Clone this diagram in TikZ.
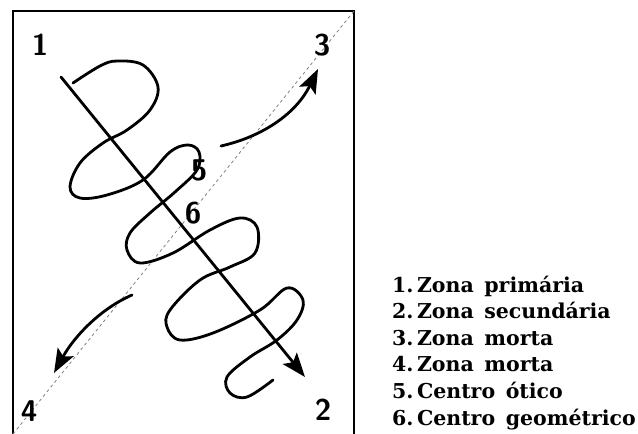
\documentclass[tikz,border=0pt]{standalone}
\usepackage{fontspec}
\setmainfont{DejaVu Serif}
\usetikzlibrary{arrows.meta}
\begin{document}
\begin{tikzpicture}[x=1pt,y=-1pt,
  hand/.style={line width=2.8pt,line cap=round,line join=round},
  bigarrow/.style={hand,-{Stealth[length=24pt,width=18pt,inset=5pt]}},
  digit/.style={font=\sffamily\bfseries\fontsize{30}{30}\selectfont},
  legend/.style={anchor=base west,inner sep=0pt,font=\bfseries\fontsize{20.5}{20.5}\selectfont}]
\useasboundingbox (0,0) rectangle (638,434);
% frame
\draw[line width=1.8pt] (13,434) -- (13,11) -- (354,11) -- (354,434);
% dashed diagonal
\coordinate (dl) at (13,434);
\coordinate (dr) at (354,11);
\draw[gray,line width=0.8pt,dash pattern=on 3pt off 3pt] (dl) -- (dr);
% spiral
\draw[hand] plot[smooth,tension=0.6] coordinates {
 (73,83) (100,66) (117,61) (143,65) (158,87) (150,110) (127,130) (103,143)
 (80,163) (70,187) (80,198) (107,195) (143,180) (170,152) (188,145) (199,152)
 (197,170) (175,192) (150,213) (130,233) (127,250) (140,263) (173,253) (210,230)
 (240,218) (257,227) (255,253) (230,267) (200,280) (170,310) (167,327) (180,340)
 (213,333) (260,310) (287,288) (303,300) (297,320) (277,340) (250,357) (227,377)
 (230,393) (247,397) (273,380)};
% main arrow
\coordinate (p1) at (61,77);
\coordinate (p2) at (305,377);
\draw[bigarrow] (p1) -- (p2);
% curved arrows
\coordinate (u1) at (221,146);
\coordinate (u2) at (318,69);
\draw[bigarrow] (u1) .. controls (265,136) and (297,112) .. (u2);
\coordinate (l1) at (132,295);
\coordinate (l2) at (54,373);
\draw[bigarrow] (l1) .. controls (102,308) and (75,335) .. (l2);
% digits
\node[digit] (n1) at (40,45) {1};
\node[digit] (n3) at (322,45) {3};
\node[digit] (n4) at (29,411) {4};
\node[digit] (n2) at (323,410) {2};
\node[digit] (n5) at (199,170) {5};
\node[digit] (n6) at (193,213) {6};
% legend
\node[legend] (t1) at (392,292) {1.\,Zona\, primária};
\node[legend] (t2) at (392,318.5) {2.\,Zona\, secundária};
\node[legend] (t3) at (392,345) {3.\,Zona\, morta};
\node[legend] (t4) at (392,371.5) {4.\,Zona\, morta};
\node[legend] (t5) at (392,398) {5.\,Centro\, ótico};
\node[legend] (t6) at (392,425) {6.\,Centro\, geométrico};
\end{tikzpicture}
\end{document}
